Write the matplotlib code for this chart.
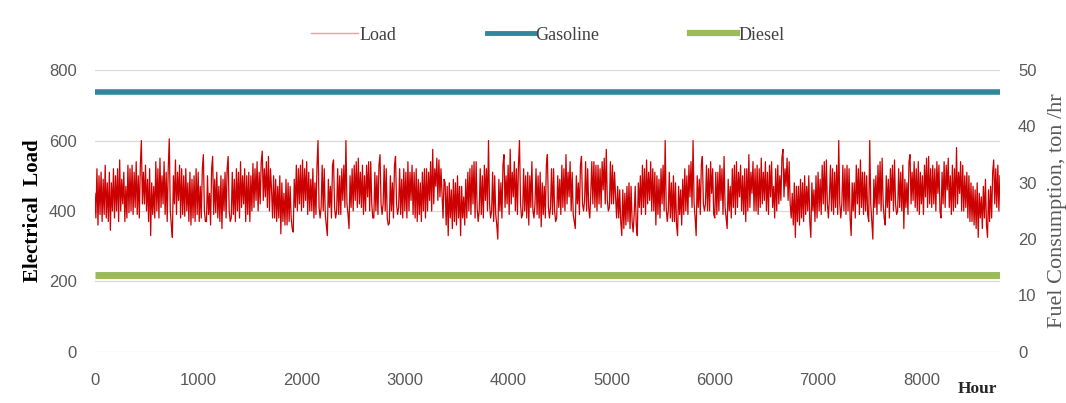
import numpy as np
import matplotlib
matplotlib.use("Agg")
import matplotlib.pyplot as plt
from matplotlib.lines import Line2D

# Electrical load, sampled every 10 hours over the year (0..8760 h)
hour_step = 10
load = [
    450, 380, 520, 360, 500, 390, 510, 370, 490, 390, 530, 380, 480, 370, 510, 345, 480, 400, 520, 380, 500, 400, 520, 370, 545, 400, 490, 420, 510, 370,
    470, 380, 530, 395, 520, 400, 530, 390, 510, 410, 540, 390, 500, 380, 530, 600, 420, 510, 420, 530, 400, 490, 370, 520, 330, 480, 390, 470, 380, 540,
    400, 520, 380, 550, 410, 500, 420, 540, 390, 510, 370, 520, 605, 400, 360, 325, 500, 420, 545, 390, 510, 430, 530, 380, 520, 390, 500, 385, 520, 400,
    480, 370, 510, 360, 490, 380, 500, 370, 520, 390, 510, 370, 470, 380, 520, 560, 400, 370, 370, 500, 390, 450, 360, 520, 555, 390, 490, 395, 510, 380,
    470, 370, 500, 350, 490, 400, 510, 380, 520, 555, 400, 370, 380, 510, 390, 490, 370, 520, 400, 510, 380, 540, 410, 500, 420, 520, 370, 500, 390, 510,
    370, 500, 400, 535, 410, 520, 430, 540, 400, 510, 420, 540, 570, 430, 520, 440, 540, 410, 555, 400, 520, 460, 380, 500, 380, 490, 370, 470, 380, 500,
    335, 480, 370, 450, 360, 490, 360, 480, 370, 470, 380, 350, 340, 490, 410, 530, 400, 520, 420, 530, 400, 545, 410, 520, 430, 540, 390, 510, 400, 490,
    400, 520, 380, 480, 390, 530, 600, 410, 380, 410, 530, 400, 520, 390, 360, 330, 490, 410, 470, 380, 530, 545, 410, 380, 400, 520, 390, 500, 390, 520,
    430, 530, 410, 600, 420, 390, 350, 500, 410, 520, 400, 530, 430, 540, 410, 550, 420, 510, 410, 530, 390, 500, 400, 530, 440, 540, 400, 540, 420, 380,
    380, 510, 400, 500, 390, 530, 560, 420, 390, 420, 530, 400, 520, 380, 360, 365, 500, 400, 480, 380, 530, 555, 420, 390, 410, 520, 390, 490, 380, 520,
    400, 510, 380, 540, 400, 510, 430, 530, 390, 510, 380, 520, 370, 490, 390, 480, 370, 510, 400, 520, 380, 520, 400, 510, 430, 540, 400, 575, 420, 520,
    470, 550, 430, 545, 440, 520, 450, 380, 490, 480, 360, 470, 330, 480, 380, 460, 350, 490, 370, 480, 360, 500, 380, 470, 330, 470, 380, 440, 360, 490,
    380, 510, 400, 520, 390, 530, 420, 540, 380, 540, 410, 370, 400, 520, 390, 500, 380, 530, 430, 520, 400, 600, 420, 380, 400, 510, 370, 500, 390, 360,
    320, 490, 400, 480, 380, 530, 560, 410, 500, 420, 530, 390, 575, 420, 510, 440, 540, 400, 520, 390, 530, 600, 420, 380, 390, 520, 400, 500, 380, 510,
    360, 500, 410, 540, 400, 380, 420, 520, 390, 500, 380, 510, 355, 480, 390, 470, 380, 530, 560, 410, 380, 410, 520, 390, 520, 400, 370, 380, 500, 410,
    490, 390, 530, 410, 520, 400, 560, 420, 510, 440, 540, 400, 510, 390, 370, 350, 500, 420, 480, 390, 530, 555, 420, 400, 430, 540, 400, 520, 410, 380,
    450, 540, 420, 540, 410, 530, 400, 530, 420, 520, 410, 540, 460, 550, 420, 575, 430, 400, 410, 540, 420, 530, 420, 510, 440, 380, 470, 380, 460, 370,
    330, 460, 350, 450, 360, 470, 370, 480, 350, 470, 370, 340, 390, 470, 360, 330, 480, 410, 500, 390, 530, 410, 520, 390, 545, 420, 510, 430, 540, 400,
    520, 400, 510, 360, 500, 390, 490, 380, 520, 420, 530, 400, 600, 410, 370, 400, 510, 380, 480, 370, 500, 370, 480, 360, 330, 470, 390, 460, 360, 490,
    390, 520, 400, 500, 390, 530, 440, 540, 410, 600, 420, 380, 330, 500, 410, 490, 390, 530, 555, 420, 400, 420, 530, 400, 520, 400, 540, 450, 520, 390,
    380, 510, 390, 510, 400, 530, 430, 520, 390, 555, 410, 380, 350, 490, 400, 470, 380, 520, 410, 530, 390, 540, 410, 510, 440, 530, 400, 500, 390, 520,
    370, 520, 400, 560, 410, 510, 450, 540, 400, 520, 400, 530, 390, 520, 410, 550, 420, 510, 430, 540, 400, 510, 390, 530, 440, 540, 410, 470, 380, 520,
    400, 530, 420, 500, 430, 550, 575, 440, 520, 470, 550, 430, 540, 420, 380, 450, 360, 480, 325, 470, 370, 470, 360, 490, 380, 480, 370, 500, 390, 470,
    400, 500, 370, 325, 480, 400, 460, 370, 500, 380, 510, 400, 490, 390, 530, 420, 540, 400, 545, 420, 380, 440, 530, 400, 520, 390, 510, 410, 530, 390,
    600, 420, 380, 420, 530, 400, 520, 390, 530, 400, 520, 380, 330, 480, 400, 480, 380, 530, 420, 520, 390, 545, 410, 510, 390, 510, 400, 500, 390, 370,
    600, 420, 370, 320, 490, 410, 500, 390, 530, 420, 540, 400, 550, 420, 380, 360, 500, 410, 490, 380, 520, 430, 530, 400, 545, 420, 390, 400, 520, 410,
    510, 400, 530, 350, 490, 410, 480, 390, 540, 560, 420, 510, 430, 540, 410, 520, 400, 540, 390, 510, 420, 500, 390, 530, 440, 550, 410, 555, 420, 520,
    410, 530, 420, 520, 400, 540, 450, 530, 400, 380, 510, 420, 540, 410, 530, 460, 550, 410, 500, 390, 530, 400, 520, 410, 580, 420, 510, 450, 540, 400,
    530, 400, 500, 410, 510, 380, 500, 370, 480, 370, 470, 360, 460, 350, 480, 325, 450, 380, 440, 350, 470, 380, 490, 360, 325, 460, 370, 470, 380, 510,
    545, 420, 520, 410, 530, 400, 500,
]
hours = np.arange(len(load)) * hour_step

# Constant fuel consumption, ton/hr
gasoline_rate = 46.1
diesel_rate = 13.7
year_end = 8760

left_ticks = [0, 200, 400, 600, 800]
right_ticks = [0, 10, 20, 30, 40, 50]
x_ticks = [0, 1000, 2000, 3000, 4000, 5000, 6000, 7000, 8000]

load_color = "#CC0000"
gas_color = "#31859C"
diesel_color = "#9BBB59"
tick_color = "#595959"
serif = ["Liberation Serif", "DejaVu Serif"]
sans = ["Liberation Sans", "DejaVu Sans"]

fig = plt.figure(figsize=(10.66, 4.03), dpi=100)
ax = fig.add_axes([0.089, 0.127, 0.849, 0.699])
ax2 = ax.twinx()

ax.set_xlim(0, year_end)
ax.set_ylim(0, 800)
ax2.set_ylim(0, 50)

ax.set_yticks(left_ticks)
ax.set_xticks(x_ticks)
ax2.set_yticks(right_ticks)
ax.grid(axis="y", color="#D9D9D9", linewidth=0.9)
ax.set_axisbelow(True)

for a in (ax, ax2):
    for s in a.spines.values():
        s.set_visible(False)
    a.tick_params(length=0, labelsize=12, labelcolor=tick_color)
for lab in ax.get_xticklabels() + ax.get_yticklabels() + ax2.get_yticklabels():
    lab.set_family(sans)
ax.tick_params(axis="y", pad=13)
ax.tick_params(axis="x", pad=15)
ax2.tick_params(axis="y", pad=13)

ax.plot(hours, load, color=load_color, linewidth=0.9, zorder=3)
ax2.plot([0, year_end], [gasoline_rate, gasoline_rate], color=gas_color,
         linewidth=4.0, solid_capstyle="butt", zorder=2)
ax2.plot([0, year_end], [diesel_rate, diesel_rate], color=diesel_color,
         linewidth=5.0, solid_capstyle="butt", zorder=2)

ax.set_ylabel("Electrical  Load", family=serif, fontweight="bold",
              fontsize=15, color="black", labelpad=4)
ax2.set_ylabel("Fuel Consumption, ton /hr", family=serif, fontsize=16,
               color=tick_color, labelpad=8)
fig.text(0.9165, 0.035, "Hour", family=serif, fontweight="bold",
         fontsize=12.5, color="#262626", ha="center", va="center")

handles = [
    Line2D([], [], color="#E8A0A8", linewidth=1.0),
    Line2D([], [], color=gas_color, linewidth=3.5),
    Line2D([], [], color=diesel_color, linewidth=4.5),
]
fig.legend(handles, ["Load", "Gasoline", "Diesel"], loc="center",
           bbox_to_anchor=(0.514, 0.913), ncol=3, frameon=False,
           handlelength=2.6, handletextpad=0.1, columnspacing=5.0,
           prop={"family": serif, "size": 13}, labelcolor="#404040")

fig.savefig("out.png", dpi=100, facecolor="white")
